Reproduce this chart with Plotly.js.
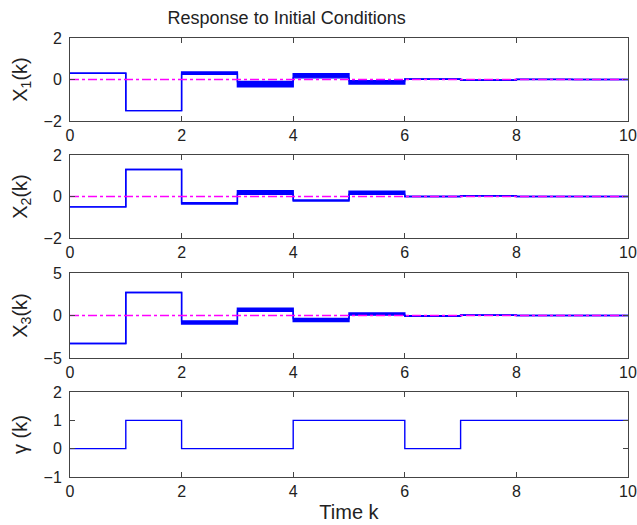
<!DOCTYPE html>
<html>
<head>
<meta charset="utf-8">
<script src="https://cdn.plot.ly/plotly-3.0.1.min.js"></script>
<style>html,body{margin:0;padding:0;background:#fff;}#chart{width:637px;height:525px;}</style>
</head>
<body>
<div id="chart"></div>
<script>
// Time steps k
const k = [0, 1, 2, 3, 4, 5, 6, 7, 8, 9, 10];
// Upper / lower envelopes of each state (step held from k to k+1)
const x1Hi = [0.30, -1.50, 0.36, -0.10, 0.28, -0.06, 0.03, -0.02, 0.01, 0.00, 0.00];
const x1Lo = [0.30, -1.50, 0.25, -0.35, 0.08, -0.22, 0.01, -0.04, 0.00, 0.00, 0.00];
const x2Hi = [-0.50, 1.30, -0.30, 0.28, -0.17, 0.25, 0.01, 0.04, 0.00, 0.00, 0.00];
const x2Lo = [-0.50, 1.30, -0.36, 0.10, -0.22, 0.10, -0.01, 0.02, 0.00, 0.00, 0.00];
const x3Hi = [-3.30, 2.70, -0.65, 0.85, -0.35, 0.30, -0.03, 0.07, 0.00, 0.00, 0.00];
const x3Lo = [-3.30, 2.70, -1.00, 0.50, -0.70, 0.05, -0.08, 0.03, 0.00, 0.00, 0.00];
const gamma = [0, 1, 0, 0, 1, 1, 0, 1, 1, 1, 1];
const zeroRef = [0, 0];
const zeroX = [0, 10];
const xTicks = [0, 2, 4, 6, 8, 10];

const blue = '#0000ff';
const mag = '#ff00ff';
const traces = [];
function band(hi, lo, xa, ya) {
  traces.push({x: k, y: lo, xaxis: xa, yaxis: ya, mode: 'lines', line: {shape: 'hv', color: blue, width: 1.4}, hoverinfo: 'skip'});
  traces.push({x: k, y: hi, xaxis: xa, yaxis: ya, mode: 'lines', line: {shape: 'hv', color: blue, width: 1.4}, fill: 'tonexty', fillcolor: blue, hoverinfo: 'skip'});
  traces.push({x: zeroX, y: zeroRef, xaxis: xa, yaxis: ya, mode: 'lines', line: {color: mag, width: 1.3, dash: 'dashdot'}, hoverinfo: 'skip'});
}
band(x1Hi, x1Lo, 'x', 'y');
band(x2Hi, x2Lo, 'x2', 'y2');
band(x3Hi, x3Lo, 'x3', 'y3');
traces.push({x: k, y: gamma, xaxis: 'x4', yaxis: 'y4', mode: 'lines', line: {shape: 'hv', color: blue, width: 1.4}, hoverinfo: 'skip'});

const fam = 'Liberation Sans, Arial, sans-serif';
const fnt = {family: fam, size: 16, color: '#222'};
function xa(anchor) {
  return {anchor: anchor, domain: [0, 1], range: [0, 10], tickvals: xTicks, ticks: 'inside', ticklen: 5,
    tickcolor: '#444', showline: true, linecolor: '#444', linewidth: 1, mirror: 'ticks', showgrid: false,
    zeroline: false, tickfont: fnt, fixedrange: true, ticklabelstandoff: 0};
}
function ya(anchor, dom, range, tv, title) {
  return {anchor: anchor, domain: dom, range: range, tickvals: tv, ticks: 'inside', ticklen: 5,
    tickcolor: '#444', showline: true, linecolor: '#444', linewidth: 1, mirror: 'ticks', showgrid: false,
    zeroline: false, tickfont: fnt, fixedrange: true, ticklabelstandoff: 4,
    title: {text: title, font: {family: fam, size: 20, color: '#222'}, standoff: 10}};
}
const xt4 = xa('y4');
xt4.title = {text: 'Time k', font: {family: fam, size: 20, color: '#222'}, standoff: 5};

const layout = {
  width: 637, height: 525,
  margin: {l: 70, r: 9, t: 38, b: 48},
  paper_bgcolor: '#fff', plot_bgcolor: '#fff',
  showlegend: false,
  title: {text: 'Response to Initial Conditions', font: {family: fam, size: 18, color: '#222'}, x: 0.45, xanchor: 'center', y: 0.967, yanchor: 'middle'},
  xaxis: xa('y'), xaxis2: xa('y2'), xaxis3: xa('y3'), xaxis4: xt4,
  yaxis: ya('x', [0.811, 1], [-2, 2], [-2, 0, 2], 'X<sub>1</sub>(k)'),
  yaxis2: ya('x2', [0.5444, 0.7335], [-2, 2], [-2, 0, 2], 'X<sub>2</sub>(k)'),
  yaxis3: ya('x3', [0.2711, 0.4647], [-5, 5], [-5, 0, 5], 'X<sub>3</sub>(k)'),
  yaxis4: ya('x4', [0, 0.1936], [-1, 2], [-1, 0, 1, 2], 'γ (k)')
};
Plotly.newPlot('chart', traces, layout, {staticPlot: true, displayModeBar: false});
</script>
</body>
</html>
